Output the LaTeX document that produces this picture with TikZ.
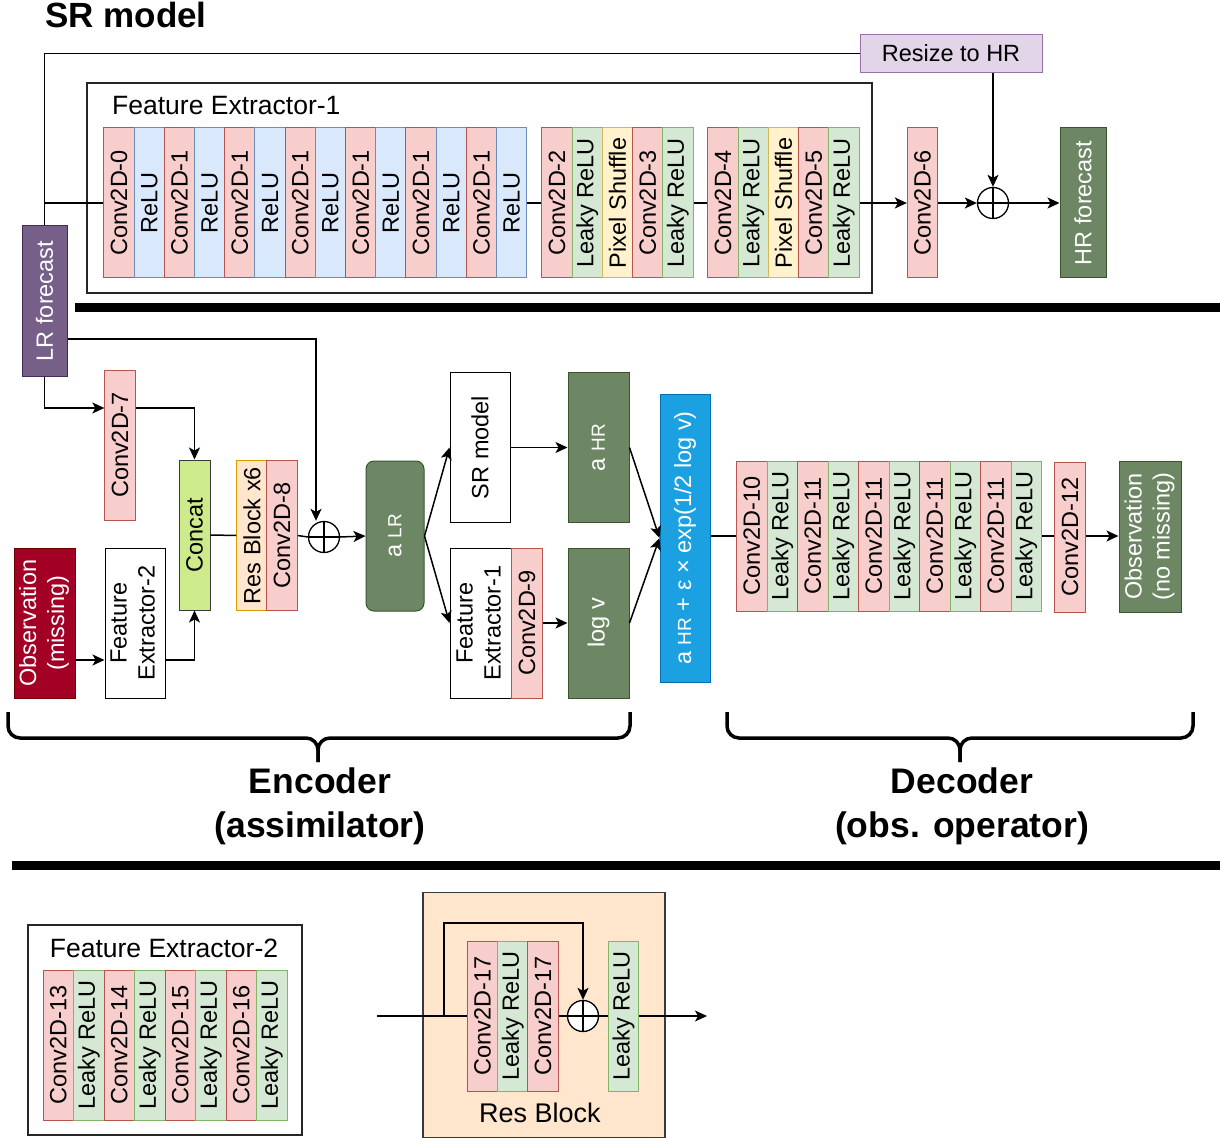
\documentclass[tikz,border=0pt]{standalone}
\usepackage{fontspec}
\setmainfont{Liberation Sans}
\usetikzlibrary{arrows.meta}

\definecolor{cvf}{HTML}{F8CECC}\definecolor{cvd}{HTML}{B85450}
\definecolor{rlf}{HTML}{DAE8FC}\definecolor{rld}{HTML}{6C8EBF}
\definecolor{lkf}{HTML}{D5E8D4}\definecolor{lkd}{HTML}{82B366}
\definecolor{psf}{HTML}{FFF2CC}\definecolor{psd}{HTML}{D6B656}
\definecolor{rbf}{HTML}{FFE6CC}\definecolor{rbd}{HTML}{D79B00}
\definecolor{rsf}{HTML}{E1D5E7}\definecolor{rsd}{HTML}{9673A6}
\definecolor{dgf}{HTML}{6D8764}\definecolor{dgd}{HTML}{3A5431}
\definecolor{lrff}{HTML}{76608A}\definecolor{lrfd}{HTML}{432D57}
\definecolor{omf}{HTML}{A20025}\definecolor{omd}{HTML}{6F0000}
\definecolor{blf}{HTML}{1BA1E2}\definecolor{bld}{HTML}{006EAF}
\definecolor{ccf}{HTML}{CDEB8B}\definecolor{ccd}{HTML}{36393D}
\definecolor{whf}{HTML}{FFFFFF}\definecolor{whd}{HTML}{000000}

\newcommand{\vtxt}[1]{\rotatebox{90}{#1}}
\newcommand{\vtwo}[2]{\rotatebox{90}{\begin{tabular}{@{}c@{}}#1\\#2\end{tabular}}}
\newcommand{\smtxt}[1]{{\fontsize{19}{22}\selectfont #1}}

\tikzset{
  blk/.style={draw, line width=1pt, minimum width=30.3pt, minimum height=150pt, inner sep=0pt},
  kind/.style={fill=#1f, draw=#1d},
  dark/.style={blk, fill=#1f, draw=#1d, text=white},
  outerbox/.style={draw=black!85, line width=1.5pt, inner sep=0pt},
  sumnode/.style={circle, draw, fill=white, line width=1.3pt, minimum size=31pt, inner sep=0pt,
    path picture={\draw[line width=1.3pt] (path picture bounding box.north) -- (path picture bounding box.south)
      (path picture bounding box.west) -- (path picture bounding box.east);}},
  conn/.style={line width=1.5pt},
  arr/.style={conn, -{Stealth[length=12pt,width=11pt,inset=3pt]}},
  brc/.style={line width=3.5pt, rounded corners=12pt},
  sepline/.style={line width=9pt},
}

\begin{document}
\begin{tikzpicture}[x=1pt, y=-1pt, font=\fontsize{23.5}{28}\selectfont]
  \useasboundingbox (0,0) rectangle (1220,1139);

  % Title
  \node[anchor=base west, inner sep=0pt, font=\fontsize{35}{42}\selectfont\bfseries] (title) at (45,28) {SR model};

  % SR model: Feature Extractor-1 frame
  \node[outerbox, minimum width=785pt, minimum height=210pt] (fe1) at (479.5,188) {};
  \node[anchor=west, inner sep=0pt, font=\fontsize{26.5}{31}\selectfont] (fe1t) at (112,106) {Feature Extractor-1};

  % Add the layers of the SR model
  \foreach \txt/\k [count=\i from 0] in {Conv2D-0/cv,ReLU/rl,Conv2D-1/cv,ReLU/rl,Conv2D-1/cv,ReLU/rl,Conv2D-1/cv,ReLU/rl,Conv2D-1/cv,ReLU/rl,Conv2D-1/cv,ReLU/rl,Conv2D-1/cv,ReLU/rl} {
      \node[blk, kind=\k] (fa\i) at (119.1+30.2*\i,203) {\vtxt{\txt}};
  }
  \foreach \txt/\k [count=\i from 0] in {Conv2D-2/cv,Leaky ReLU/lk,Pixel Shuffle/ps,Conv2D-3/cv,Leaky ReLU/lk} {
      \node[blk, kind=\k] (fb\i) at (557.1+30.2*\i,203) {\vtxt{\txt}};
  }
  \foreach \txt/\k [count=\i from 0] in {Conv2D-4/cv,Leaky ReLU/lk,Pixel Shuffle/ps,Conv2D-5/cv,Leaky ReLU/lk} {
      \node[blk, kind=\k] (fc\i) at (723.1+30.2*\i,203) {\vtxt{\txt}};
  }
  \node[blk, kind=cv] (cv6) at (922.5,203) {\vtxt{Conv2D-6}};
  \node[sumnode] (pl1) at (993,203) {};
  \node[dark=dg, minimum width=46pt] (hrf) at (1083,203) {\vtxt{HR forecast}};
  \node[draw, line width=1pt, kind=rs, minimum width=182pt, minimum height=38pt] (rs) at (951,53.5) {Resize to HR};
  \node[dark=lrf, minimum width=45pt] (lrf) at (44.5,301) {\vtxt{LR forecast}};

  \draw[conn] (fa13.east) -- (fb0.west);
  \draw[conn] (fb4.east) -- (fc0.west);
  \draw[arr] (fc4.east) -- (cv6.west);
  \draw[arr] (cv6.east) -- (pl1.west);
  \draw[arr] (pl1.east) -- (hrf.west);
  \draw[arr] (rs.south -| pl1.north) -- (pl1.north);
  \draw[conn] (lrf.north) |- (rs.west);
  \draw[conn] (lrf.north |- fa0.west) -- (fa0.west);

  \draw[sepline] (75,308) -- (1220,308);

  % Encoder
  \node[blk, kind=cv] (cv7) at (120,445) {\vtxt{Conv2D-7}};
  \node[blk, kind=cc, minimum width=31pt] (cc) at (194.5,535) {\vtxt{Concat}};
  \node[dark=om, minimum width=61pt] (om) at (44.5,623) {\vtwo{Observation}{(missing)}};
  \node[blk, kind=wh, minimum width=60pt] (fe2) at (135,623) {\vtwo{Feature}{Extractor-2}};
  \node[blk, kind=rb] (rb6) at (252,535.5) {\vtxt{Res Block x6}};
  \node[blk, kind=cv] (cv8) at (282,535.5) {\vtxt{Conv2D-8}};
  \node[sumnode] (pl2) at (324,537) {};
  \node[dark=dg, minimum width=58pt, rounded corners=8pt] (alr) at (395,536) {\vtxt{a \smtxt{LR}}};
  \node[blk, kind=wh, minimum width=60pt] (srm) at (480,447.5) {\vtxt{SR model}};
  \node[blk, kind=wh, minimum width=62pt] (fe1b) at (481,623) {\vtwo{Feature}{Extractor-1}};
  \node[blk, kind=cv] (cv9) at (527,623) {\vtxt{Conv2D-9}};
  \node[dark=dg, minimum width=61pt] (ahr) at (598.5,447.5) {\vtxt{a \smtxt{HR}}};
  \node[dark=dg, minimum width=61pt] (lgv) at (598.5,623) {\vtxt{log v}};
  \node[dark=bl, minimum width=50pt, minimum height=288pt] (bl) at (685,538) {\vtxt{a \smtxt{HR} + ε × exp(1/2 log v)}};

  \draw[arr] ([yshift=-38pt]lrf.east) -| ([xshift=-8pt]pl2.north);
  \draw[arr] (lrf.south) |- ([yshift=37pt]cv7.west);
  \draw[arr] ([yshift=37pt]cv7.east) -| (cc.north);
  \draw[arr] ([yshift=-37pt]om.east) -- ([yshift=-37pt]fe2.west);
  \draw[arr] ([yshift=-37pt]fe2.east) -| (cc.south);
  \draw[conn] (cc.east) -- (rb6.west);
  \draw[conn] (cv8.east) -- (pl2.west);
  \draw[arr] (pl2.east) -- (alr.west);
  \draw[arr] (alr.east) -- (srm.west);
  \draw[arr] (alr.east) -- (fe1b.west);
  \draw[arr] (srm.east) -- (ahr.west);
  \draw[arr] (cv9.east) -- (lgv.west);
  \draw[arr] (ahr.east) -- (bl.west);
  \draw[arr] (lgv.east) -- (bl.west);

  % Decoder
  \foreach \txt/\k [count=\i from 0] in {Conv2D-10/cv,Leaky ReLU/lk,Conv2D-11/cv,Leaky ReLU/lk,Conv2D-11/cv,Leaky ReLU/lk,Conv2D-11/cv,Leaky ReLU/lk,Conv2D-11/cv,Leaky ReLU/lk} {
      \node[blk, kind=\k, minimum width=30.5pt] (dc\i) at (751.75+30.5*\i,536) {\vtxt{\txt}};
  }
  \node[blk, kind=cv] (cv12) at (1070,537) {\vtxt{Conv2D-12}};
  \node[dark=dg, minimum width=62pt, minimum height=151pt] (om2) at (1150,536.5) {\vtwo{Observation}{(no missing)}};

  \draw[conn] (bl.east |- dc0.west) -- (dc0.west);
  \draw[conn] (dc9.east) -- (cv12.west |- dc9.east);
  \draw[arr] (cv12.east |- dc9.east) -- (om2.west |- dc9.east);

  % Braces and their labels
  \draw[brc] (8,712) -- (8,738) -- (318,738) -- (318,762);
  \draw[brc] (630,712) -- (630,738) -- (318,738) -- (318,762);
  \draw[brc] (727,712) -- (727,738) -- (960,738) -- (960,762);
  \draw[brc] (1193,712) -- (1193,738) -- (960,738) -- (960,762);
  \node[align=center, font=\fontsize{35.5}{44}\selectfont\bfseries] (enc) at (320,806) {Encoder\\(assimilator)};
  \node[align=center, font=\fontsize{35.5}{44}\selectfont\bfseries] (dec) at (962,806) {Decoder\\(obs. operator)};

  \draw[sepline] (12,865) -- (1220,865);

  % Feature Extractor-2
  \node[outerbox, minimum width=274pt, minimum height=210pt] (fe2c) at (165,1030) {};
  \node[inner sep=0pt, font=\fontsize{26.5}{31}\selectfont] (fe2t) at (164,948) {Feature Extractor-2};
  \foreach \txt/\k [count=\i from 0] in {Conv2D-13/cv,Leaky ReLU/lk,Conv2D-14/cv,Leaky ReLU/lk,Conv2D-15/cv,Leaky ReLU/lk,Conv2D-16/cv,Leaky ReLU/lk} {
      \node[blk, kind=\k, minimum width=30.5pt] (g\i) at (58.25+30.5*\i,1045) {\vtxt{\txt}};
  }

  % Res Block
  \node[outerbox, fill=rbf, draw=ccd, minimum width=242pt, minimum height=245pt] (rbc) at (544,1015) {};
  \node[font=\fontsize{27}{32}\selectfont] (rbt) at (540,1113) {Res Block};
  \foreach \txt/\k [count=\i from 0] in {Conv2D-17/cv,Leaky ReLU/lk,Conv2D-17/cv} {
      \node[blk, kind=\k] (r\i) at (482.5+30.3*\i,1016) {\vtxt{\txt}};
  }
  \node[sumnode] (pl3) at (583,1016) {};
  \node[blk, kind=lk] (r3) at (623.5,1016) {\vtxt{Leaky ReLU}};
  \coordinate (rin) at (377,1016);
  \coordinate (rsk) at (444,1016);
  \coordinate (rout) at (707,1016);

  \draw[conn] (rin) -- (r0.west);
  \draw[arr] (rsk) -- ++(0,-93) -| (pl3.north);
  \draw[conn] (r2.east) -- (pl3.west);
  \draw[conn] (pl3.east) -- (r3.west);
  \draw[arr] (r3.east) -- (rout);
\end{tikzpicture}
\end{document}
